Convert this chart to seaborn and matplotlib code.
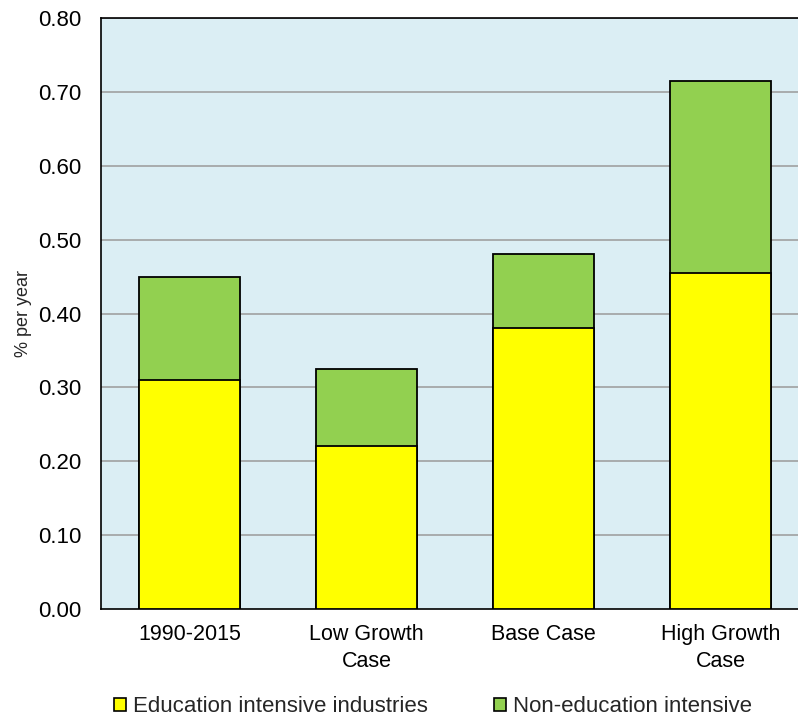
import matplotlib
matplotlib.use("Agg")
import matplotlib.pyplot as plt
from matplotlib.patches import Patch
import seaborn as sns
import pandas as pd

# Growth contribution by scenario (% per year)
categories = ["1990-2015", "Low Growth\nCase", "Base Case", "High Growth\nCase"]
education_intensive = [0.31, 0.22, 0.38, 0.455]
non_education_intensive = [0.14, 0.105, 0.10, 0.26]
series_names = ["Education intensive industries", "Non-education intensive"]
y_ticks = [0.0, 0.1, 0.2, 0.3, 0.4, 0.5, 0.6, 0.7, 0.8]

totals = [a + b for a, b in zip(education_intensive, non_education_intensive)]
df = pd.DataFrame({"category": categories,
                   "education": education_intensive,
                   "total": totals})

yellow = "#FFFF00"
green = "#92D050"
bg = "#DBEEF4"

sns.set_theme(style="white")
plt.rcParams["font.family"] = ["Liberation Sans", "DejaVu Sans"]

fig = plt.figure(figsize=(7.98, 7.22), dpi=100)
ax = fig.add_axes([101 / 798, 1 - 609 / 722, 697 / 798, 591 / 722])
ax.set_facecolor(bg)

# Stack: full-height green bars first, then the yellow lower segment on top
sns.barplot(data=df, x="category", y="total", color=green, width=0.57,
            edgecolor="black", linewidth=1.3, saturation=1, ax=ax, zorder=3)
sns.barplot(data=df, x="category", y="education", color=yellow, width=0.57,
            edgecolor="black", linewidth=1.3, saturation=1, ax=ax, zorder=4)

ax.set_xlim(-0.5, 3.438)
ax.set_ylim(0, 0.8)
ax.set_yticks(y_ticks)
ax.set_yticklabels([f"{v:.2f}" for v in y_ticks])
for v in y_ticks[1:]:
    ax.axhline(v, color="#A0A0A0", linewidth=1.2, zorder=1)

ax.set_xlabel("")
ax.set_ylabel("% per year", fontsize=13)
ax.yaxis.set_label_coords(-0.099, 0.5)
ax.tick_params(axis="y", length=0, pad=14, labelsize=16, colors="black")
ax.tick_params(axis="x", length=0, pad=11, labelsize=15.5, colors="black")
for lbl in ax.get_xticklabels():
    lbl.set_linespacing(1.35)

for side in ["left", "bottom", "top"]:
    ax.spines[side].set_visible(True)
    ax.spines[side].set_color("black")
    ax.spines[side].set_linewidth(1.2)
ax.spines["right"].set_visible(False)

handles = [Patch(facecolor=yellow, edgecolor="black", linewidth=1.2),
           Patch(facecolor=green, edgecolor="black", linewidth=1.2)]
fig.legend(handles, series_names, loc="center", ncol=2,
           bbox_to_anchor=(433 / 798, 1 - 707 / 722), frameon=False,
           fontsize=16, handlelength=0.55, handleheight=0.55,
           handletextpad=0.3, columnspacing=3.0, borderaxespad=0)

fig.savefig("out.png", dpi=100)
